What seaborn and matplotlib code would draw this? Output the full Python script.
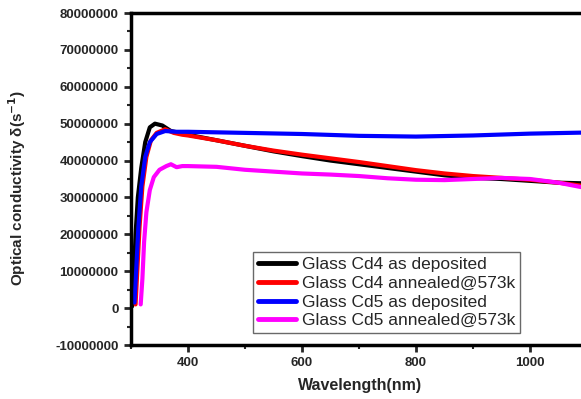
import numpy as np
import pandas as pd
import matplotlib
matplotlib.use("Agg")
import matplotlib.pyplot as plt
import seaborn as sns
from matplotlib.ticker import MultipleLocator, FuncFormatter

# ---- data ----
labels = ["Glass Cd4 as deposited", "Glass Cd4 annealed@573k",
          "Glass Cd5 as deposited", "Glass Cd5 annealed@573k"]
colors = ["#000000", "#ff0000", "#0000ff", "#ff00ff"]

cd4_dep_wl = [302, 305, 308, 312, 318, 325, 333, 342, 355, 370, 400, 450, 500, 550, 600,
              650, 700, 750, 800, 850, 900, 950, 1000, 1050, 1100]
cd4_dep_val = [0.5, 8, 20, 30, 38, 45, 49, 50, 49.5, 48, 47, 45.5, 44, 42.5, 41.2,
               40, 39, 38, 37, 36, 35.3, 35, 34.5, 34, 33.8]

cd4_ann_wl = [308, 311, 315, 320, 327, 335, 345, 360, 375, 390, 400, 450, 500, 550, 600,
              650, 700, 750, 800, 850, 900, 950, 1000, 1050, 1100]
cd4_ann_val = [1, 10, 22, 33, 41, 45.5, 47.5, 48.5, 47.5, 47, 46.8, 45.5, 44, 42.7, 41.6,
               40.6, 39.6, 38.5, 37.4, 36.5, 35.8, 35.3, 34.8, 34, 33]

cd5_dep_wl = [306, 309, 313, 318, 325, 333, 345, 360, 380, 400, 500, 600, 700, 800, 900,
              1000, 1100]
cd5_dep_val = [1.5, 10, 22, 33, 41, 45, 47.2, 48, 47.8, 47.8, 47.5, 47.2, 46.7, 46.5, 46.8,
               47.3, 47.6]

cd5_ann_wl = [317, 320, 323, 327, 333, 340, 350, 362, 370, 380, 390, 400, 450, 500, 550,
              600, 650, 700, 750, 800, 850, 900, 950, 1000, 1050, 1100]
cd5_ann_val = [1, 8, 18, 26, 32, 35.5, 37.5, 38.5, 39, 38.2, 38.5, 38.5, 38.3, 37.5, 37,
               36.5, 36.2, 35.8, 35.2, 34.8, 34.7, 35, 35.3, 35, 34, 32.5]

series = [(cd4_dep_wl, cd4_dep_val), (cd4_ann_wl, cd4_ann_val),
          (cd5_dep_wl, cd5_dep_val), (cd5_ann_wl, cd5_ann_val)]

rows = []
for lab, (wl, val) in zip(labels, series):
    for w, v in zip(wl, val):
        rows.append({"Wavelength": w, "sigma": v * 1e6, "Sample": lab})
df = pd.DataFrame(rows)

sns.set_style("ticks")
plt.rcParams["font.family"] = ["Liberation Sans", "DejaVu Sans"]
plt.rcParams["mathtext.default"] = "bf"

fig = plt.figure(figsize=(5.81, 3.99), dpi=100)
ax = fig.add_axes([131 / 581, 1 - 345 / 399, (587 - 131) / 581, (345 - 13) / 399])

sns.lineplot(data=df, x="Wavelength", y="sigma", hue="Sample", hue_order=labels,
             palette=colors, linewidth=3, ax=ax, sort=False, estimator=None)

ax.set_xlim(300, 1100)
ax.set_ylim(-10e6, 80e6)
ax.xaxis.set_major_locator(MultipleLocator(200))
ax.xaxis.set_minor_locator(MultipleLocator(100))
ax.yaxis.set_major_locator(MultipleLocator(10e6))
ax.yaxis.set_minor_locator(MultipleLocator(5e6))
ax.yaxis.set_major_formatter(FuncFormatter(lambda v, p: f"{int(round(v))}"))

ax.tick_params(axis="both", which="major", direction="out", length=5, width=2,
               labelsize=9.5, pad=4)
ax.tick_params(axis="both", which="minor", direction="out", length=3, width=1.5)
for t in ax.get_xticklabels() + ax.get_yticklabels():
    t.set_fontweight("bold")

for s in ["left", "bottom", "top"]:
    ax.spines[s].set_linewidth(2.5)
    ax.spines[s].set_color("black")
ax.spines["right"].set_visible(False)

ax.set_xlabel("Wavelength(nm)", fontsize=11.5, fontweight="bold")
ax.xaxis.set_label_coords((360 - 131) / 456, (345 - 378) / 332)
ax.set_ylabel(r"Optical conductivity δ(s$^{-1}$)", fontsize=11, fontweight="bold")
ax.yaxis.set_label_coords((28 - 131) / 456, (345 - 187.5) / 332)

leg = ax.legend(loc="upper left", bbox_to_anchor=(253 / 581, 1 - 252 / 399),
                bbox_transform=fig.transFigure, borderaxespad=0, fontsize=12.5,
                frameon=True, fancybox=False, handlelength=2.2, labelspacing=0.2,
                borderpad=0.3, handletextpad=0.3)
leg.get_frame().set_edgecolor("#444444")
leg.get_frame().set_linewidth(1.0)
for h in leg.get_lines():
    h.set_linewidth(3.5)

fig.savefig("out.png", dpi=100)
